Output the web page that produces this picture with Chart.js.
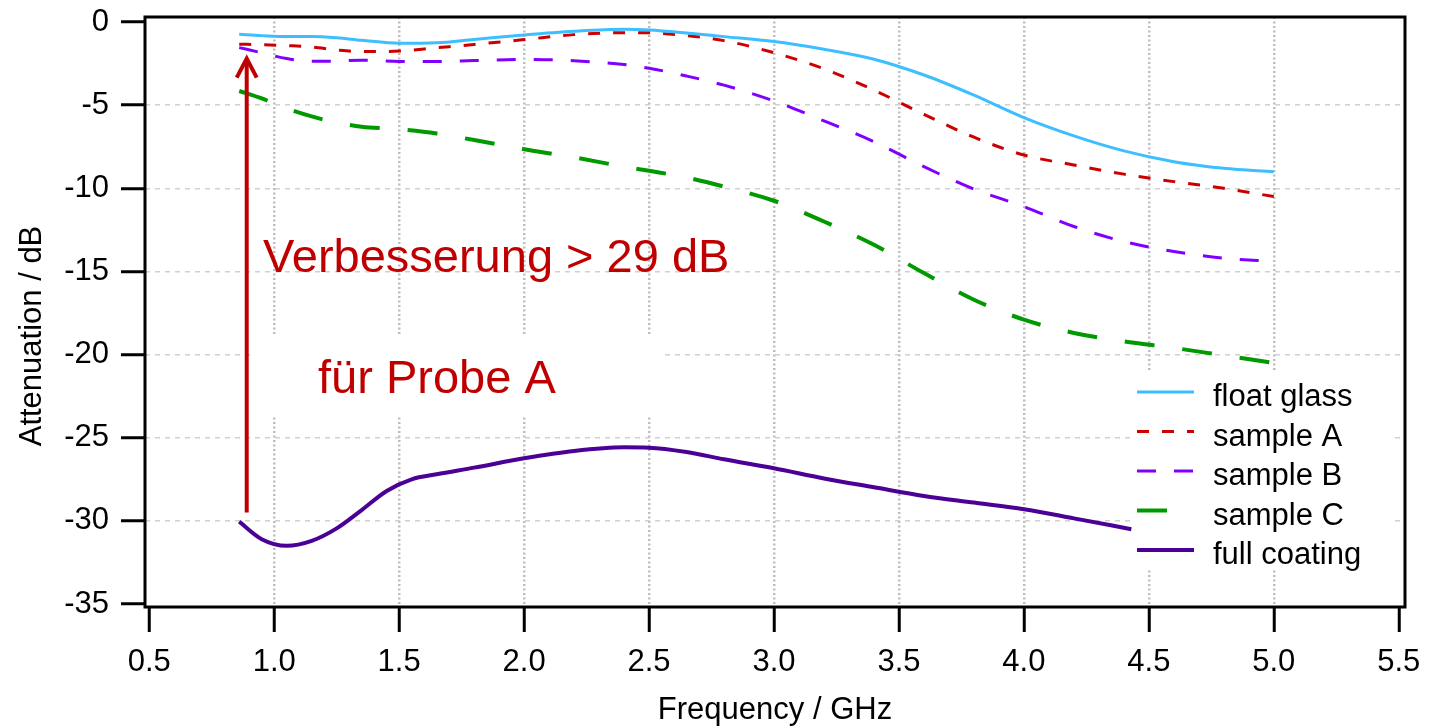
<!DOCTYPE html>
<html>
<head>
<meta charset="utf-8">
<script src="https://cdn.jsdelivr.net/npm/chart.js@4"></script>
<style>
  body { margin: 0; background: #fff; }
  #wrap { width: 1437px; height: 727px; }
</style>
</head>
<body>
<div id="wrap"><canvas id="myChart" width="1437" height="727"></canvas></div>
<script>
// values (GHz / dB)
const freq = [0.86, 0.95, 1.05, 1.15, 1.25, 1.35, 1.5, 1.65, 1.8, 2.0, 2.2, 2.4, 2.5, 2.65, 2.8, 3.0, 3.2, 3.4, 3.6, 3.8, 4.0, 4.2, 4.4, 4.6, 4.8, 5.0];
const floatGlass = [-0.74, -0.82, -0.88, -0.88, -0.95, -1.1, -1.28, -1.25, -1.05, -0.78, -0.56, -0.44, -0.48, -0.66, -0.88, -1.18, -1.64, -2.24, -3.19, -4.4, -5.75, -6.85, -7.75, -8.4, -8.8, -9.0];
const sampleA = [-1.34, -1.36, -1.42, -1.5, -1.68, -1.78, -1.75, -1.55, -1.35, -1.06, -0.76, -0.64, -0.65, -0.82, -1.12, -1.85, -2.82, -4.1, -5.55, -6.93, -8.0, -8.6, -9.15, -9.6, -10.0, -10.5];
const sampleB = [-1.54, -1.85, -2.2, -2.36, -2.35, -2.3, -2.37, -2.38, -2.32, -2.25, -2.33, -2.56, -2.78, -3.25, -3.8, -4.75, -5.95, -7.2, -8.7, -10.05, -11.1, -12.3, -13.2, -13.8, -14.2, -14.4];
const sampleC = [-4.15, -4.6, -5.2, -5.68, -6.05, -6.3, -6.45, -6.7, -7.1, -7.65, -8.14, -8.7, -8.95, -9.35, -9.9, -10.75, -12.0, -13.4, -15.1, -16.7, -17.9, -18.7, -19.2, -19.6, -20.05, -20.5];
const freqFull = [0.86, 0.95, 1.05, 1.15, 1.25, 1.35, 1.45, 1.55, 1.65, 1.8, 2.0, 2.2, 2.4, 2.5, 2.65, 2.8, 3.0, 3.2, 3.4, 3.6, 3.8, 4.0, 4.2, 4.43];
const fullCoating = [-30.05, -31.1, -31.5, -31.2, -30.45, -29.35, -28.2, -27.5, -27.2, -26.8, -26.24, -25.8, -25.58, -25.6, -25.86, -26.3, -26.84, -27.45, -27.98, -28.5, -28.9, -29.3, -29.85, -30.5];

const seriesNames = ['float glass', 'sample A', 'sample B', 'sample C', 'full coating'];
const xTicks = [0.5, 1.0, 1.5, 2.0, 2.5, 3.0, 3.5, 4.0, 4.5, 5.0, 5.5];
const yTicks = [0, -5, -10, -15, -20, -25, -30, -35];
const xTitle = 'Frequency / GHz';
const yTitle = 'Attenuation / dB';
const noteLine1 = 'Verbesserung > 29 dB';
const noteLine2 = 'für Probe A';

const FONT = '"Liberation Sans", Arial, sans-serif';
const toPoints = (xs, ys) => xs.map((f, i) => ({ x: f, y: ys[i] }));

const styles = [
    { color: '#3DBEFF', width: 3, dash: [] },
    { color: '#CC0000', width: 3, dash: [12, 13] },
    { color: '#8000FF', width: 3, dash: [19, 18] },
    { color: '#009A00', width: 4, dash: [30, 28] },
    { color: '#4B0096', width: 4, dash: [] }
];
const seriesData = [
    toPoints(freq, floatGlass),
    toPoints(freq, sampleA),
    toPoints(freq, sampleB),
    toPoints(freq, sampleC),
    toPoints(freqFull, fullCoating)
];

const datasets = seriesNames.map((name, i) => ({
    label: name,
    data: seriesData[i],
    borderColor: styles[i].color,
    borderWidth: styles[i].width,
    borderDash: styles[i].dash,
    pointRadius: 0,
    fill: false,
    cubicInterpolationMode: 'monotone'
}));

const overlay = {
    id: 'overlay',
    afterDatasetsDraw(chart) {
        const { ctx, chartArea: a, scales: { x, y } } = chart;
        ctx.save();

        // white text box behind the second note line
        ctx.fillStyle = '#fff';
        ctx.fillRect(255, 335, 410, 82);

        ctx.fillStyle = '#C00000';
        ctx.font = '47px ' + FONT;
        ctx.textAlign = 'left';
        ctx.textBaseline = 'alphabetic';
        ctx.fillText(noteLine1, 263, 272);
        ctx.fillText(noteLine2, 318, 393);

        // arrow
        const ax = x.getPixelForValue(0.89);
        const yb = y.getPixelForValue(-29.5);
        const yt = y.getPixelForValue(-2.2);
        ctx.strokeStyle = '#C00000';
        ctx.lineWidth = 4;
        ctx.beginPath();
        ctx.moveTo(ax, yb);
        ctx.lineTo(ax, yt + 3);
        ctx.stroke();
        ctx.beginPath();
        ctx.moveTo(ax - 10, yt + 19);
        ctx.lineTo(ax, yt);
        ctx.lineTo(ax + 10, yt + 19);
        ctx.stroke();

        // legend
        ctx.fillStyle = '#fff';
        ctx.fillRect(1133, 372, 257, 196);
        ctx.font = '31px ' + FONT;
        seriesNames.forEach((name, i) => {
            const ly = 392 + i * 39.5;
            ctx.strokeStyle = styles[i].color;
            ctx.lineWidth = styles[i].width;
            ctx.setLineDash(styles[i].dash);
            ctx.beginPath();
            ctx.moveTo(1137, ly);
            ctx.lineTo(1194, ly);
            ctx.stroke();
            ctx.setLineDash([]);
            ctx.fillStyle = '#000';
            ctx.fillText(name, 1213, ly + 14);
        });

        // frame
        ctx.strokeStyle = '#000';
        ctx.lineWidth = 3;
        ctx.strokeRect(a.left, a.top, a.right - a.left, a.bottom - a.top);

        // axis titles
        ctx.fillStyle = '#000';
        ctx.font = '31px ' + FONT;
        ctx.textAlign = 'center';
        ctx.fillText(xTitle, (a.left + a.right) / 2, 719);
        ctx.translate(41, 336);
        ctx.rotate(-Math.PI / 2);
        ctx.fillText(yTitle, 0, 0);
        ctx.restore();
    }
};

const hideEdge = (edges, color) => (c) => (c.tick && edges.includes(c.tick.value)) ? 'rgba(0,0,0,0)' : color;

const ctx = document.getElementById('myChart').getContext('2d');
new Chart(ctx, {
    type: 'line',
    data: { datasets: datasets },
    options: {
        responsive: false,
        animation: false,
        layout: { padding: { top: 17, right: 32, left: 0, bottom: 0 } },
        plugins: { legend: { display: false }, tooltip: { enabled: false } },
        scales: {
            x: {
                type: 'linear',
                min: 0.483,
                max: 5.525,
                afterBuildTicks: (s) => { s.ticks = xTicks.map(v => ({ value: v })); },
                afterFit: (s) => { s.height = 120; s.paddingLeft = 0; s.paddingRight = 0; },
                ticks: {
                    callback: (v) => v.toFixed(1),
                    color: '#000',
                    font: { family: FONT, size: 31 },
                    padding: 12,
                    maxRotation: 0,
                    autoSkip: false
                },
                grid: {
                    color: hideEdge([0.5, 5.5], '#bdbdbd'),
                    lineWidth: 2.5,
                    tickColor: '#000',
                    tickWidth: 3,
                    tickLength: 25,
                    tickBorderDash: []
                },
                border: { display: false, dash: [2, 2.5] }
            },
            y: {
                type: 'linear',
                min: -35.18,
                max: 0.3,
                afterBuildTicks: (s) => { s.ticks = yTicks.map(v => ({ value: v })); },
                afterFit: (s) => { s.width = 145; s.paddingTop = 0; s.paddingBottom = 0; },
                ticks: {
                    callback: (v) => String(v),
                    color: '#000',
                    font: { family: FONT, size: 31 },
                    padding: 12,
                    autoSkip: false
                },
                grid: {
                    color: hideEdge([0, -35], '#d0d0d0'),
                    lineWidth: 1.5,
                    tickColor: '#000',
                    tickWidth: 3,
                    tickLength: 24,
                    tickBorderDash: []
                },
                border: { display: false, dash: [5, 5] }
            }
        }
    },
    plugins: [overlay]
});
</script>
</body>
</html>
